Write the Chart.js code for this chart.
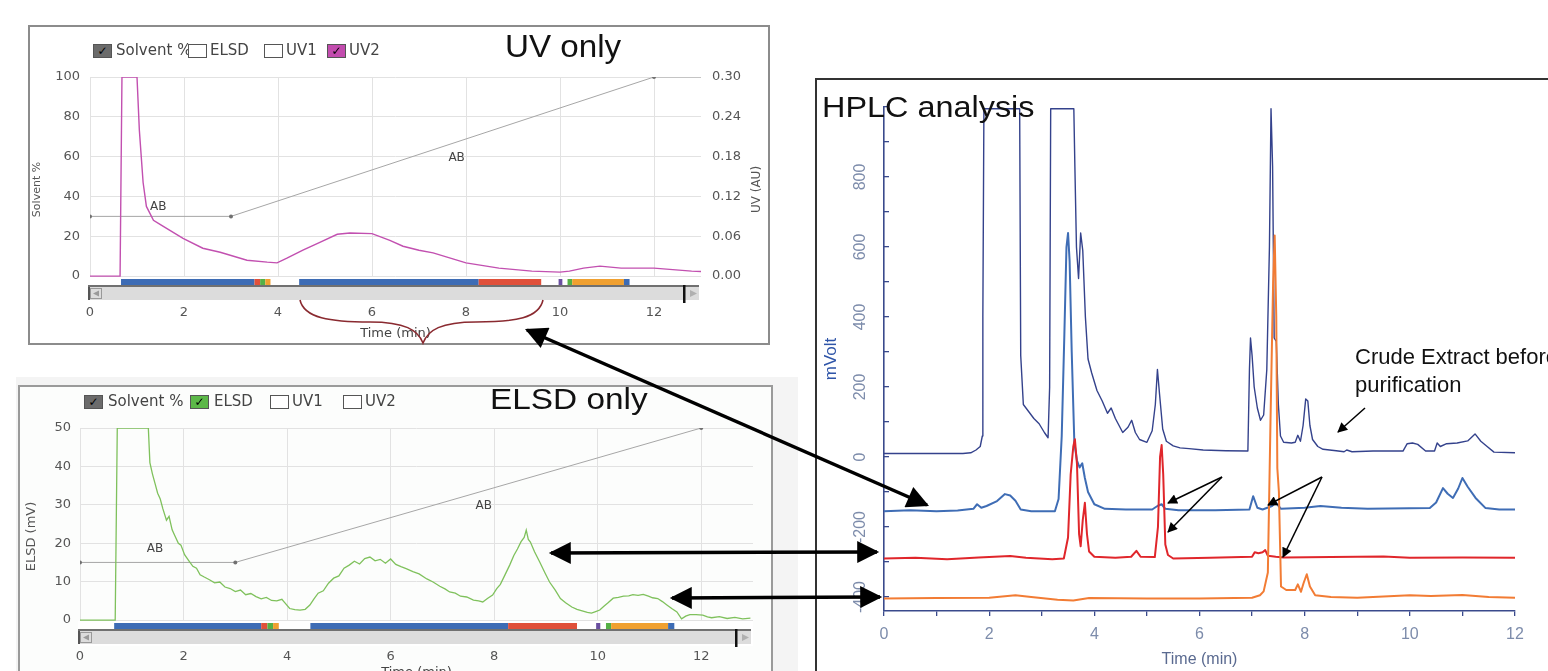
<!DOCTYPE html>
<html>
<head>
<meta charset="utf-8">
<title>UV / ELSD fractions and HPLC analysis</title>
<script src="https://cdn.jsdelivr.net/npm/chart.js@4.4.1/dist/chart.umd.min.js"></script>
<style>
  html, body { margin: 0; padding: 0; }
  body { width: 1548px; height: 671px; overflow: hidden; position: relative; background: #fff;
         font-family: "Liberation Sans", Arial, sans-serif; }
  .wrap { position: absolute; }
  .frame { position: absolute; box-sizing: border-box; }
  .title { position: absolute; white-space: nowrap; color: #111; line-height: 1; transform-origin: left top; }
  .note { position: absolute; white-space: nowrap; color: #111; font-size: 22px; line-height: 22px; }
  .legend { position: absolute; font-family: "DejaVu Sans", sans-serif; font-size: 15px; color: #444; white-space: nowrap; }
  .legend .box { position: absolute; width: 19px; height: 14px; box-sizing: border-box; border: 1px solid #555;
                 text-align: center; font-size: 12px; line-height: 12px; color: #000; font-weight: bold; }
  .legend .lbl { position: absolute; top: -2px; line-height: 16px; }
  svg { position: absolute; left: 0; top: 0; pointer-events: none; }
</style>
</head>
<body>

<!-- panneaux -->
<div class="frame" style="left:28px;top:25px;width:742px;height:320px;border:2px solid #8c8c8c;background:#fff"></div>
<div class="frame" style="left:16px;top:377px;width:782px;height:300px;background:#f4f4f4"></div>
<div class="frame" style="left:18px;top:385px;width:755px;height:300px;border:2px solid #9a9a9a;background:#fcfdfc"></div>
<div class="frame" style="left:815px;top:78px;width:740px;height:600px;border-left:2px solid #333;border-top:2px solid #333;background:#fff"></div>

<div class="wrap" style="left:28px;top:25px;width:742px;height:320px"><canvas id="uvCanvas"></canvas></div>
<div class="wrap" style="left:18px;top:385px;width:755px;height:300px"><canvas id="elsdCanvas"></canvas></div>
<div class="wrap" style="left:817px;top:80px;width:731px;height:591px"><canvas id="hplcCanvas"></canvas></div>

<div id="uvLegend" class="legend" style="left:0;top:44px"></div>
<div id="elsdLegend" class="legend" style="left:0;top:395px"></div>

<div class="title" style="left:505px;top:31px;font-size:31px;transform:scaleX(1.07)">UV only</div>
<div class="title" style="left:490px;top:385px;font-size:29px;transform:scaleX(1.15)">ELSD only</div>
<div class="title" style="left:822px;top:92px;font-size:30px;transform:scaleX(1.08)">HPLC analysis</div>
<div class="note" style="left:1355px;top:346px">Crude Extract before</div>
<div class="note" style="left:1355px;top:374px">purification</div>

<svg width="1548" height="671">
  <defs>
    <marker id="bigHead" viewBox="0 0 10 10" refX="9" refY="5" markerUnits="userSpaceOnUse"
            markerWidth="28" markerHeight="22" orient="auto-start-reverse">
      <path d="M0,0 L10,5 L0,10 z" fill="#000"/>
    </marker>
    <marker id="thinHead" viewBox="0 0 10 10" refX="9" refY="5" markerUnits="userSpaceOnUse"
            markerWidth="13" markerHeight="10" orient="auto-start-reverse">
      <path d="M0,0 L10,5 L0,10 z" fill="#000"/>
    </marker>
  </defs>
  <!-- accolade sous l'axe du panneau UV -->
  <path d="M300,300 C304,318 330,322 370,322 C405,322 418,330 423,343 C428,330 441,322 476,322 C516,322 539,318 543,300"
        fill="none" stroke="#8a2a30" stroke-width="1.6"/>
  <!-- grosses fleches entre panneaux -->
  <line x1="527" y1="330" x2="927" y2="505" stroke="#000" stroke-width="3.5" marker-start="url(#bigHead)" marker-end="url(#bigHead)"/>
  <line x1="551" y1="553" x2="877" y2="552" stroke="#000" stroke-width="3.5" marker-start="url(#bigHead)" marker-end="url(#bigHead)"/>
  <line x1="672" y1="598" x2="880" y2="597" stroke="#000" stroke-width="3.5" marker-start="url(#bigHead)" marker-end="url(#bigHead)"/>
  <!-- petites fleches HPLC -->
  <line x1="1222" y1="477" x2="1168" y2="503" stroke="#000" stroke-width="1.5" marker-end="url(#thinHead)"/>
  <line x1="1222" y1="477" x2="1168" y2="532" stroke="#000" stroke-width="1.5" marker-end="url(#thinHead)"/>
  <line x1="1322" y1="477" x2="1268" y2="505" stroke="#000" stroke-width="1.5" marker-end="url(#thinHead)"/>
  <line x1="1322" y1="477" x2="1283" y2="557" stroke="#000" stroke-width="1.5" marker-end="url(#thinHead)"/>
  <line x1="1365" y1="408" x2="1338" y2="432" stroke="#000" stroke-width="1.5" marker-end="url(#thinHead)"/>
</svg>

<script>
// ---- Données ----

// gradient de solvant (% B)
const gradTime = [0, 3, 12, 13];
const uvGradPct = [30, 30, 100, 100];
const elsdGradTime = [0, 3, 12];
const elsdGradMv = [15, 15, 50];
const abTime = [1.45, 7.8];
const uvAbPct = [35, 59.5];
const elsdAbMv = [18.5, 29.7];

// trace UV2 (AU)
const uvTime = [0, 0.64, 0.68, 1.0, 1.05, 1.13, 1.2, 1.35, 1.49, 1.7, 1.98, 2.4, 2.77, 3.34, 3.77, 3.98,
  4.19, 4.53, 4.89, 5.26, 5.53, 6.0, 6.38, 6.66, 7.0, 7.3, 8.0, 8.7, 9.4, 10.0, 10.2, 10.5, 10.85, 11.3, 12.0, 12.8, 13.0];
const uvAbs = [0, 0, 0.3, 0.3, 0.22, 0.141, 0.105, 0.084, 0.078, 0.069, 0.057, 0.042, 0.036, 0.024, 0.021, 0.02,
  0.027, 0.039, 0.051, 0.063, 0.065, 0.064, 0.054, 0.045, 0.039, 0.035, 0.02, 0.012, 0.0075, 0.006, 0.0075, 0.012, 0.015, 0.012, 0.012, 0.0075, 0.007];

// trace ELSD (mV)
const elsdTime = [0, 0.68, 0.72, 1.32, 1.35, 1.4, 1.45, 1.5, 1.55, 1.6, 1.67, 1.72, 1.78, 1.83, 1.9, 1.95, 2.02, 2.1,
  2.18, 2.25, 2.32, 2.4, 2.5, 2.6, 2.7, 2.8, 2.9, 3.0, 3.1, 3.2, 3.3, 3.4, 3.5, 3.6, 3.7, 3.8, 3.9, 3.95, 4.05, 4.15,
  4.25, 4.35, 4.44, 4.52, 4.6, 4.7, 4.8, 4.9, 5.0, 5.1, 5.2, 5.3, 5.4, 5.5, 5.6, 5.7, 5.8, 5.9, 6.0, 6.1, 6.2, 6.3,
  6.43, 6.55, 6.7, 6.82, 6.95, 7.05, 7.14, 7.25, 7.35, 7.47, 7.6, 7.7, 7.78, 7.87, 7.97, 8.05, 8.12, 8.2, 8.3, 8.38,
  8.45, 8.52, 8.58, 8.62, 8.66, 8.7, 8.78, 8.88, 8.98, 9.07, 9.18, 9.28, 9.38, 9.5, 9.6, 9.7, 9.8, 9.88, 9.96, 10.04,
  10.12, 10.2, 10.3, 10.4, 10.5, 10.6, 10.68, 10.78, 10.88, 10.98, 11.06, 11.16, 11.25, 11.33, 11.43, 11.53, 11.62,
  11.7, 11.78, 11.9, 12.03, 12.12, 12.2, 12.35, 12.5, 12.65, 12.8, 12.95];
const elsdMv = [0, 0, 50, 50, 41, 38, 35.5, 33, 31.5, 29, 26, 27, 23.5, 22, 20, 19.5, 17, 15.5,
  14, 13.5, 11.8, 11.2, 10.5, 9.7, 9.9, 8.6, 8.2, 7.4, 7.8, 6.6, 6.9, 6.1, 5.5, 5.9, 5.1, 5.0, 5.4, 4.6, 3.0, 2.7,
  2.6, 2.8, 3.9, 5.5, 7.0, 7.6, 9.6, 10.9, 11.5, 13.5, 14.3, 15.3, 14.6, 16.0, 16.4, 15.4, 15.8, 14.8, 15.9, 14.5, 13.9, 13.4,
  12.6, 12.0, 10.7, 9.9, 8.8, 8.1, 7.3, 7.0, 6.2, 6.0, 5.2, 5.0, 4.7, 5.6, 6.5, 8.2, 9.3, 11.5, 14.3, 16.8,
  18.5, 20.4, 21.5, 23.4, 21.0, 20.3, 17.8, 15.1, 12.3, 9.9, 7.8, 5.6, 4.5, 3.4, 2.8, 2.4, 2.0, 1.8, 2.2, 2.6,
  3.6, 4.5, 5.7, 5.9, 6.2, 6.3, 6.6, 6.4, 6.7, 6.2, 5.8, 5.6, 4.8, 4.0, 3.0, 2.1, 0.3,
  1.0, 1.4, 1.4, 1.3, 0.8, 0.6, 0.9, 0.4, 0.7, 0.3, 0.5];

// fractions collectées (min)
const fracStart = [0.66, 3.5, 3.62, 3.73, 4.45, 8.27, 9.97, 10.16, 10.26, 11.36];
const fracEnd = [3.5, 3.62, 3.73, 3.84, 8.27, 9.6, 10.05, 10.26, 11.36, 11.48];
const fracColor = ["#3d6cb5", "#e0503a", "#55b045", "#f0a030", "#3d6cb5", "#e0503a", "#6a4fa0", "#55b045", "#f0a030", "#3d6cb5"];

// ticks des panneaux de gauche
const leftTimeTicks = [0, 2, 4, 6, 8, 10, 12];
const solventTicks = [0, 20, 40, 60, 80, 100];
const uvAuTicks = [0, 0.06, 0.12, 0.18, 0.24, 0.30];
const elsdTicks = [0, 10, 20, 30, 40, 50];

// HPLC (mV), quatre traces décalées
const crudeTime = [0, 0.5, 1.0, 1.5, 1.65, 1.75, 1.83, 1.87, 1.88, 1.9, 2.58, 2.6, 2.65, 2.75, 2.85, 2.95, 3.05, 3.12,
  3.15, 3.17, 3.61, 3.63, 3.66, 3.7, 3.74, 3.78, 3.83, 3.88, 3.95, 4.05, 4.15, 4.25, 4.32, 4.4, 4.54, 4.64, 4.71, 4.78,
  4.86, 5.0, 5.1, 5.16, 5.2, 5.24, 5.3, 5.37, 5.5, 5.63, 5.8, 6.07, 6.5, 6.92, 6.95, 6.97, 7.0, 7.04, 7.1, 7.16, 7.22,
  7.28, 7.33, 7.36, 7.39, 7.42, 7.46, 7.5, 7.54, 7.6, 7.75, 7.82, 7.87, 7.92, 7.97, 8.02, 8.06, 8.1, 8.15, 8.25, 8.35,
  8.6, 8.75, 8.8, 8.9, 9.3, 9.87, 9.95, 10.05, 10.15, 10.3, 10.47, 10.52, 10.58, 10.7, 10.9, 11.1, 11.24, 11.35, 11.47, 11.6, 12.0];
const crudeMv = [10, 10, 10, 10, 12, 20, 30, 60, 400, 995, 995, 290, 150, 130, 110, 95, 70, 55,
  200, 995, 995, 830, 600, 510, 640, 590, 400, 280, 240, 190, 160, 125, 140, 110, 70, 85, 105, 70,
  50, 42, 75, 150, 250, 180, 80, 45, 32, 26, 24, 20, 18, 17, 250, 340, 290, 200, 140, 105, 120,
  250, 600, 995, 830, 340, 330, 150, 60, 42, 40, 42, 62, 45, 90, 166, 160, 90, 50, 30, 22,
  18, 15, 20, 15, 17, 17, 38, 40, 36, 17, 17, 40, 30, 38, 40, 46, 66, 45, 30, 14, 12];

const blueTime = [0, 0.5, 1.0, 1.4, 1.7, 1.77, 1.85, 1.95, 2.15, 2.3, 2.4, 2.5, 2.6, 2.8, 3.25, 3.32, 3.38, 3.43, 3.47,
  3.5, 3.53, 3.57, 3.62, 3.67, 3.72, 3.77, 3.82, 3.88, 4.0, 4.2, 4.6, 5.1, 5.2, 5.28, 5.35, 5.6, 6.3, 6.95, 7.02, 7.1,
  7.2, 7.38, 7.45, 7.55, 8.0, 8.3, 8.7, 9.2, 10.38, 10.5, 10.63, 10.72, 10.82, 10.92, 11.0, 11.1, 11.25, 11.44, 11.7, 12.0];
const blueMv = [-155, -152, -155, -153, -148, -135, -145, -140, -126, -106, -110, -125, -150, -155, -155, -120, 60, 350, 600,
  640, 560, 300, 40, -10, -30, -18, -60, -100, -135, -148, -150, -150, -140, -135, -148, -152, -152, -150, -112, -145,
  -150, -140, -130, -148, -145, -140, -145, -148, -146, -130, -89, -105, -117, -90, -60, -85, -117, -146, -150, -150];

const redTime = [0, 0.6, 1.2, 1.8, 2.4, 2.7, 3.2, 3.42, 3.5, 3.55, 3.6, 3.63, 3.67, 3.71, 3.74, 3.78, 3.82, 3.86, 3.9,
  4.0, 4.4, 4.7, 4.8, 4.88, 5.15, 5.21, 5.25, 5.28, 5.31, 5.35, 5.4, 5.5, 6.2, 7.0, 7.05, 7.12, 7.2, 7.25, 7.3, 7.45,
  7.6, 8.5, 9.5, 10.0, 11.0, 12.0];
const redMv = [-290, -288, -292, -287, -283, -288, -292, -290, -230, -50, 30, 51, -20, -220, -255, -180, -131, -220, -270,
  -285, -288, -285, -268, -285, -286, -200, 0, 34, -50, -250, -280, -290, -288, -285, -272, -275, -272, -266, -282, -285,
  -287, -286, -284, -288, -287, -288];

const orangeTime = [0, 1.0, 2.0, 2.5, 2.8, 3.3, 3.6, 3.9, 5.0, 6.0, 7.0, 7.15, 7.22, 7.3, 7.35, 7.4, 7.43, 7.46, 7.48,
  7.51, 7.55, 7.65, 7.82, 7.87, 7.93, 7.98, 8.04, 8.1, 8.2, 8.5, 9.0, 10.0, 10.4, 11.0, 11.5, 12.0];
const orangeMv = [-404, -403, -402, -395, -400, -408, -410, -403, -404, -404, -402, -395, -384, -330, 100, 500, 633, 400, -32,
  -100, -370, -380, -380, -364, -385, -360, -335, -370, -395, -400, -402, -395, -397, -394, -400, -402];

const hplcTimeTicks = [0, 1, 2, 3, 4, 5, 6, 7, 8, 9, 10, 11, 12];
const hplcMvTicks = [-400, -300, -200, -100, 0, 100, 200, 300, 400, 500, 600, 700, 800, 900, 1000];

// légendes des panneaux de gauche
const legendNames = ["Solvent %", "ELSD", "UV1", "UV2"];
const uvLegendOn = [true, false, false, true];
const uvLegendFill = ["#6b6b6b", "#ffffff", "#ffffff", "#c24cae"];
const elsdLegendOn = [true, true, false, false];
const elsdLegendFill = ["#6b6b6b", "#5cb848", "#ffffff", "#ffffff"];

// ---- Construction ----
const pairs = (xs, ys) => xs.map((x, i) => ({ x: x, y: ys[i] }));
const leftFont = (size) => ({ family: "DejaVu Sans", size: size });

function buildLegend(el, boxX, labelX, on, fill) {
  legendNames.forEach((name, i) => {
    const box = document.createElement("div");
    box.className = "box";
    box.style.left = boxX[i] + "px";
    box.style.background = fill[i];
    box.textContent = on[i] ? "\u2713" : "";
    el.appendChild(box);
    const lbl = document.createElement("div");
    lbl.className = "lbl";
    lbl.style.left = labelX[i] + "px";
    lbl.textContent = name;
    el.appendChild(lbl);
  });
}
buildLegend(document.getElementById("uvLegend"), [93, 188, 264, 327], [116, 210, 286, 349], uvLegendOn, uvLegendFill);
buildLegend(document.getElementById("elsdLegend"), [84, 190, 270, 343], [108, 214, 292, 365], elsdLegendOn, elsdLegendFill);

// barre des fractions, barre de défilement, étiquettes AB
function panelExtras(abLevel, rightTitle) {
  return {
    id: "panelExtras",
    beforeDatasetsDraw(chart) {
      const { ctx, chartArea } = chart;
      const xs = chart.scales.x, ys = chart.scales.y;
      const y0 = Math.round(ys.getPixelForValue(0));
      const left = xs.getPixelForValue(0) - 2;
      const right = chartArea.right - 2;
      ctx.save();
      ctx.fillStyle = "#ffffff";
      ctx.fillRect(left, y0 + 1, chartArea.right - left, chartArea.bottom - y0);
      fracStart.forEach((t, i) => {
        const a = xs.getPixelForValue(t), b = xs.getPixelForValue(fracEnd[i]);
        ctx.fillStyle = fracColor[i];
        ctx.fillRect(a, y0 + 3, b - a, 6);
      });
      ctx.fillStyle = "#707070";
      ctx.fillRect(left, y0 + 9, right - left, 2);
      ctx.fillStyle = "#dcdcdc";
      ctx.fillRect(left, y0 + 11, right - left, 13);
      // bouton gauche
      ctx.fillStyle = "#555";
      ctx.fillRect(left, y0 + 11, 2, 13);
      ctx.strokeStyle = "#999";
      ctx.lineWidth = 1;
      ctx.strokeRect(left + 2.5, y0 + 12.5, 11, 10);
      ctx.fillStyle = "#9a9a9a";
      ctx.beginPath();
      ctx.moveTo(left + 5, y0 + 17.5); ctx.lineTo(left + 11, y0 + 14.5); ctx.lineTo(left + 11, y0 + 20.5);
      ctx.fill();
      // bouton droit
      ctx.fillStyle = "#111";
      ctx.fillRect(right - 16, y0 + 9, 2.5, 18);
      ctx.fillStyle = "#b0b0b0";
      ctx.beginPath();
      ctx.moveTo(right - 2, y0 + 17.5); ctx.lineTo(right - 9, y0 + 14); ctx.lineTo(right - 9, y0 + 21);
      ctx.fill();
      ctx.restore();
    },
    afterDatasetsDraw(chart) {
      const { ctx } = chart;
      const xs = chart.scales.x, ys = chart.scales.y;
      ctx.save();
      ctx.font = "12px 'DejaVu Sans'";
      ctx.fillStyle = "#444";
      ctx.textAlign = "center";
      ctx.textBaseline = "middle";
      abTime.forEach((t, i) => ctx.fillText("AB", xs.getPixelForValue(t), ys.getPixelForValue(abLevel[i])));
      ctx.restore();
    },
    afterDraw(chart) {
      if (!rightTitle) return;
      const { ctx, chartArea } = chart;
      ctx.save();
      ctx.font = "12px 'DejaVu Sans'";
      ctx.fillStyle = "#555";
      ctx.textAlign = "center";
      ctx.textBaseline = "middle";
      ctx.translate(chartArea.right + 56, (chartArea.top + chartArea.bottom) / 2);
      ctx.rotate(-Math.PI / 2);
      ctx.fillText(rightTitle, 0, 0);
      ctx.restore();
    }
  };
}

const gridGray = "#e2e2e2";
const tickGray = "#555";

// panneau UV
new Chart(document.getElementById("uvCanvas"), {
  type: "line",
  data: {
    datasets: [
      { label: "UV2", data: pairs(uvTime, uvAbs), yAxisID: "y2", borderColor: "#c250b0", borderWidth: 1.4,
        pointRadius: 0, tension: 0, order: 1 },
      { label: "Solvent %", data: pairs(gradTime, uvGradPct), yAxisID: "y", borderColor: "#a6a6a6", borderWidth: 1,
        pointRadius: [2, 2, 2, 0], pointBackgroundColor: "#707070", pointBorderWidth: 0, tension: 0, order: 2 }
    ]
  },
  options: {
    responsive: true, maintainAspectRatio: false, animation: false,
    layout: { padding: { top: 52, left: 0, right: 0, bottom: 0 } },
    plugins: { legend: { display: false }, tooltip: { enabled: false } },
    scales: {
      x: {
        type: "linear", min: 0, max: 13,
        afterBuildTicks: (s) => { s.ticks = leftTimeTicks.map((v) => ({ value: v })); },
        grid: { color: gridGray, drawTicks: false }, border: { display: false },
        ticks: { color: tickGray, font: leftFont(13), padding: 3, autoSkip: false, maxRotation: 0 },
        title: { display: true, text: "Time (min)", color: "#444", font: leftFont(13), padding: { top: 0, bottom: 4 } },
        afterFit: (s) => { s.height = 43; }
      },
      y: {
        position: "left", min: -13, max: 100,
        afterBuildTicks: (s) => { s.ticks = solventTicks.map((v) => ({ value: v })); },
        grid: { color: gridGray, drawTicks: false }, border: { display: false },
        ticks: { color: tickGray, font: leftFont(13), padding: 10 },
        title: { display: true, text: "Solvent %", color: "#555", font: leftFont(11), padding: { top: 3, bottom: 0 } },
        afterFit: (s) => { s.width = 62; }
      },
      y2: {
        position: "right", min: -0.039, max: 0.30,
        afterBuildTicks: (s) => { s.ticks = uvAuTicks.map((v) => ({ value: v })); },
        grid: { display: false }, border: { display: false },
        ticks: { color: tickGray, font: leftFont(13), padding: 3, callback: (v) => v.toFixed(2) },
        afterFit: (s) => { s.width = 69; }
      }
    }
  },
  plugins: [panelExtras(uvAbPct, "UV (AU)")]
});

// panneau ELSD
new Chart(document.getElementById("elsdCanvas"), {
  type: "line",
  data: {
    datasets: [
      { label: "ELSD", data: pairs(elsdTime, elsdMv), borderColor: "#7fc15c", borderWidth: 1.3,
        pointRadius: 0, tension: 0, order: 1 },
      { label: "Solvent %", data: pairs(elsdGradTime, elsdGradMv), borderColor: "#a6a6a6", borderWidth: 1,
        pointRadius: 2, pointBackgroundColor: "#707070", pointBorderWidth: 0, tension: 0, order: 2 }
    ]
  },
  options: {
    responsive: true, maintainAspectRatio: false, animation: false,
    layout: { padding: { top: 43, left: 0, right: 20, bottom: 0 } },
    plugins: { legend: { display: false }, tooltip: { enabled: false } },
    scales: {
      x: {
        type: "linear", min: 0, max: 13,
        afterBuildTicks: (s) => { s.ticks = leftTimeTicks.map((v) => ({ value: v })); },
        grid: { color: gridGray, drawTicks: false }, border: { display: false },
        ticks: { color: tickGray, font: leftFont(13), padding: 4, autoSkip: false, maxRotation: 0 },
        title: { display: true, text: "Time (min)", color: "#444", font: leftFont(13), padding: { top: 0, bottom: 5 } },
        afterFit: (s) => { s.height = 40; }
      },
      y: {
        min: -6.5, max: 50,
        afterBuildTicks: (s) => { s.ticks = elsdTicks.map((v) => ({ value: v })); },
        grid: { color: gridGray, drawTicks: false }, border: { display: false },
        ticks: { color: tickGray, font: leftFont(13), padding: 9 },
        title: { display: true, text: "ELSD (mV)", color: "#555", font: leftFont(13), padding: { top: 6, bottom: 0 } },
        afterFit: (s) => { s.width = 62; }
      }
    }
  },
  plugins: [panelExtras(elsdAbMv, null)]
});

// panneau HPLC
const navy = "#3a4a8c";
const hplcLabel = "#7d8cab";
new Chart(document.getElementById("hplcCanvas"), {
  type: "line",
  data: {
    datasets: [
      { label: "Crude extract", data: pairs(crudeTime, crudeMv), borderColor: "#34428c", borderWidth: 1.4, order: 4 },
      { label: "Fraction UV", data: pairs(blueTime, blueMv), borderColor: "#3f6db5", borderWidth: 2, order: 3 },
      { label: "Fraction ELSD 1", data: pairs(redTime, redMv), borderColor: "#e0262b", borderWidth: 2, order: 2 },
      { label: "Fraction ELSD 2", data: pairs(orangeTime, orangeMv), borderColor: "#f27c34", borderWidth: 2, order: 1 }
    ].map((d) => Object.assign(d, { pointRadius: 0, tension: 0, borderJoinStyle: "round" }))
  },
  options: {
    responsive: true, maintainAspectRatio: false, animation: false,
    layout: { padding: { top: 27, left: 0, right: 33, bottom: 0 } },
    plugins: { legend: { display: false }, tooltip: { enabled: false } },
    scales: {
      x: {
        type: "linear", min: 0, max: 12,
        afterBuildTicks: (s) => { s.ticks = hplcTimeTicks.map((v) => ({ value: v })); },
        grid: { drawOnChartArea: false, color: navy, tickLength: 5, lineWidth: 1.3 },
        border: { color: navy, width: 1.6 },
        ticks: { color: hplcLabel, font: { size: 16 }, padding: 9, autoSkip: false, maxRotation: 0,
                 callback: (v) => (v % 2 === 0 ? v : "") },
        title: { display: true, text: "Time (min)", color: "#5a6a90", font: { size: 16 }, padding: { top: 0, bottom: 2 } },
        afterFit: (s) => { s.height = 60; }
      },
      y: {
        min: -440, max: 1000,
        afterBuildTicks: (s) => { s.ticks = hplcMvTicks.map((v) => ({ value: v })); },
        // graduations tournées vers l'intérieur comme sur l'original
        grid: { drawOnChartArea: false, color: navy, tickLength: -5, lineWidth: 1.3 },
        border: { color: navy, width: 1.6 },
        ticks: { color: hplcLabel, font: { size: 16 }, padding: 12, autoSkip: false, minRotation: 90, maxRotation: 90,
                 crossAlign: "center", callback: (v) => (v % 200 === 0 && v <= 800 ? v : "") },
        title: { display: true, text: "mVolt", color: "#2f55a8", font: { size: 17 }, padding: { top: 4, bottom: 0 } },
        afterFit: (s) => { s.width = 67; }
      }
    }
  }
});
</script>
</body>
</html>
